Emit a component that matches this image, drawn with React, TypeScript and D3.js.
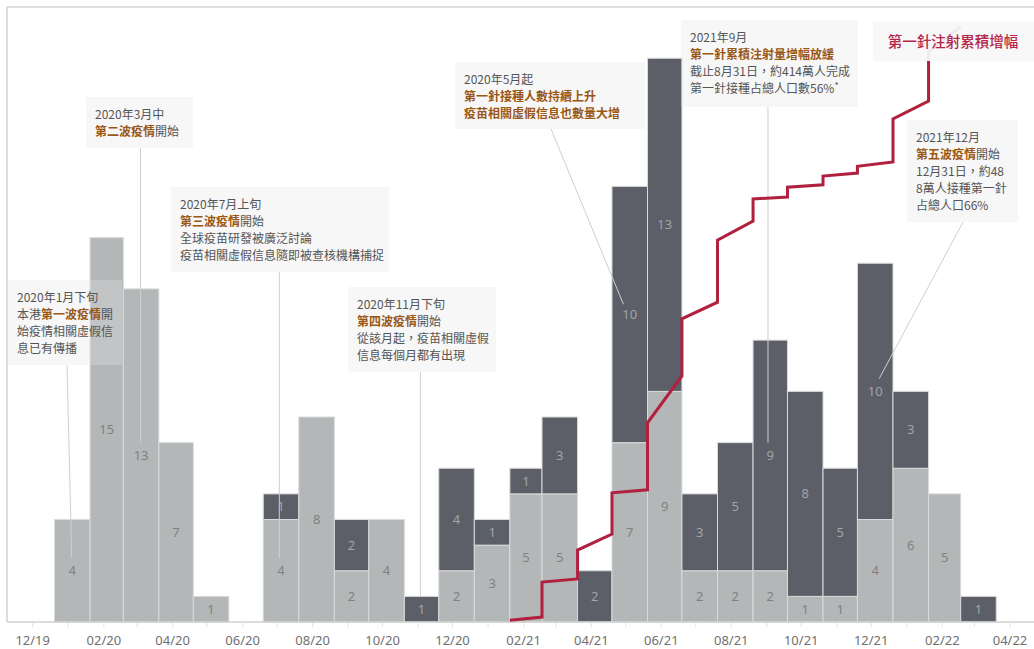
import React from "react";
import * as d3 from "d3";

// Monthly counts of fact-checked misinformation items
const months = [
  "2020-01", "2020-02", "2020-03", "2020-04", "2020-05", "2020-06",
  "2020-07", "2020-08", "2020-09", "2020-10", "2020-11", "2020-12",
  "2021-01", "2021-02", "2021-03", "2021-04", "2021-05", "2021-06",
  "2021-07", "2021-08", "2021-09", "2021-10", "2021-11", "2021-12",
  "2022-01", "2022-02", "2022-03",
];
// Pandemic-related (light) and vaccine-related (dark) items
const pandemicCounts = [4, 15, 13, 7, 1, 0, 4, 8, 2, 4, 0, 2, 3, 5, 5, 0, 7, 9, 2, 2, 2, 1, 1, 4, 6, 5, 0];
const vaccineCounts = [0, 0, 0, 0, 0, 0, 1, 0, 2, 0, 1, 4, 1, 1, 3, 2, 10, 13, 3, 5, 9, 8, 5, 10, 3, 0, 1];

// First-dose cumulative growth index (start / end of each monthly segment)
const doseMonths = [
  "2021-02", "2021-03", "2021-04", "2021-05", "2021-06", "2021-07",
  "2021-08", "2021-09", "2021-10", "2021-11", "2021-12", "2022-01", "2022-02",
];
const doseStart = [0.3, 6.5, 11.7, 21.0, 32.4, 49.3, 62.1, 68.8, 70.7, 72.5, 74.1, 81.8, 92.7];
const doseEnd = [0.8, 7.0, 14.3, 21.5, 40.0, 52.0, 65.2, 69.1, 71.1, 73.0, 74.8, 84.7, 96.8];

const tickLabels = ["12/19", "02/20", "04/20", "06/20", "08/20", "10/20", "12/20", "02/21", "04/21", "06/21", "08/21", "10/21", "12/21", "02/22", "04/22"];

type Seg = { t: string; em?: boolean; sup?: boolean };
type Note = { lines: Seg[][]; anchor: string; value: number };

const notes: Note[] = [
  {
    lines: [
      [{ t: "2020年1月下旬" }],
      [{ t: "本港" }, { t: "第一波疫情", em: true }, { t: "開" }],
      [{ t: "始疫情相關虛假信" }],
      [{ t: "息已有傳播" }],
    ],
    anchor: "2020-01-04",
    value: 2.5,
  },
  {
    lines: [[{ t: "2020年3月中" }], [{ t: "第二波疫情", em: true }, { t: "開始" }]],
    anchor: "2020-03-04",
    value: 7,
  },
  {
    lines: [
      [{ t: "2020年7月上旬" }],
      [{ t: "第三波疫情", em: true }, { t: "開始" }],
      [{ t: "全球疫苗研發被廣泛討論" }],
      [{ t: "疫苗相關虛假信息隨即被查核機構捕捉" }],
    ],
    anchor: "2020-07-03",
    value: 2.5,
  },
  {
    lines: [
      [{ t: "2020年11月下旬" }],
      [{ t: "第四波疫情", em: true }, { t: "開始" }],
      [{ t: "從該月起，疫苗相關虛假" }],
      [{ t: "信息每個月都有出現" }],
    ],
    anchor: "2020-11-03",
    value: 1,
  },
  {
    lines: [
      [{ t: "2020年5月起" }],
      [{ t: "第一針接種人數持續上升", em: true }],
      [{ t: "疫苗相關虛假信息也數量大增", em: true }],
    ],
    anchor: "2021-04-29",
    value: 12.4,
  },
  {
    lines: [
      [{ t: "2021年9月" }],
      [{ t: "第一針累積注射量增幅放緩", em: true }],
      [{ t: "截止8月31日，約414萬人完成" }],
      [{ t: "第一針接種占總人口數56%" }, { t: "*", sup: true }],
    ],
    anchor: "2021-09-02",
    value: 7,
  },
  {
    lines: [
      [{ t: "2021年12月" }],
      [{ t: "第五波疫情", em: true }, { t: "開始" }],
      [{ t: "12月31日，約48" }],
      [{ t: "8萬人接種第一針" }],
      [{ t: "占總人口66%" }],
    ],
    anchor: "2021-12-08",
    value: 9.5,
  },
];

const lineLabel = "第一針注射累積增幅";

// Annotation box placement (x, y, width, height)
const noteBoxes = [
  [8, 280, 114, 85],
  [86, 97, 107, 51],
  [171, 187, 218, 85],
  [348, 287, 148, 85],
  [455, 62, 190, 67],
  [681, 20, 177, 87],
  [907, 120, 111, 102],
];

const W = 1034;
const H = 649;
const CJK = "'Noto Sans CJK TC', 'Noto Sans', sans-serif";
const LATIN = "'Noto Sans', 'Open Sans', sans-serif";
const LIGHT = "#b4b7b8";
const DARK = "#5c5f67";
const RED = "#b0203f";
const BROWN = "#9a5714";
const TEXT = "#555555";

export default function App() {
  const parseMonth = d3.timeParse("%Y-%m");
  const parseDay = d3.timeParse("%Y-%m-%d");
  const parseTick = d3.timeParse("%m/%y");

  const x = d3
    .scaleTime()
    .domain([new Date(2019, 11, 1), new Date(2022, 3, 1)])
    .range([32.7, 1010]);
  const y = d3.scaleLinear().domain([0, 24]).range([622, 7]);
  const yDose = d3.scaleLinear().domain([0, 100]).range([622, 7]);

  const left = 7;
  const right = W;
  const base = y(0);
  const top = y(24);

  // each monthly bar spans from the 20th of the previous month to the 20th of its month
  const span = (m: Date): [number, number] => [
    x(d3.timeDay.offset(m, -12)),
    x(d3.timeDay.offset(d3.timeMonth.offset(m, 1), -12)),
  ];

  const bars = months.map((k, i) => {
    const m = parseMonth(k) as Date;
    const [x0, x1] = span(m);
    return { m, x0, x1, a: pandemicCounts[i], b: vaccineCounts[i] };
  });

  const dosePts: [number, number][] = [];
  doseMonths.forEach((k, i) => {
    const [x0, x1] = span(parseMonth(k) as Date);
    dosePts.push([x0, yDose(doseStart[i])]);
    dosePts.push([x1, yDose(doseEnd[i])]);
  });
  const doseLine = d3.line()(dosePts) || "";

  const monthTicks = d3.timeMonth.range(new Date(2019, 11, 1), new Date(2022, 3, 2));

  return (
    <svg
      width={W}
      height={H}
      style={{ position: "absolute", left: 0, top: 0, background: "#fff" }}
    >
      {/* frame */}
      <line x1={left} x2={right} y1={top} y2={top} stroke="#d6d6d6" strokeWidth={1.5} />
      <line x1={left} x2={left} y1={top} y2={base} stroke="#d0d0d0" strokeWidth={1.5} />

      {/* stacked bars */}
      {bars.map((d, i) => (
        <g key={i}>
          {d.a > 0 && (
            <rect
              x={d.x0}
              y={y(d.a)}
              width={d.x1 - d.x0}
              height={base - y(d.a)}
              fill={LIGHT}
              stroke="#dadada"
              strokeWidth={1}
            />
          )}
          {d.b > 0 && (
            <rect
              x={d.x0}
              y={y(d.a + d.b)}
              width={d.x1 - d.x0}
              height={y(d.a) - y(d.a + d.b)}
              fill={DARK}
              stroke="#dadada"
              strokeWidth={1}
            />
          )}
          {d.a > 0 && (
            <text
              x={(d.x0 + d.x1) / 2}
              y={y(d.a / 2) + 4.5}
              textAnchor="middle"
              fontFamily={LATIN}
              fontSize={13}
              fill="#808080"
            >
              {d.a}
            </text>
          )}
          {d.b > 0 && (
            <text
              x={(d.x0 + d.x1) / 2}
              y={y(d.a + d.b / 2) + 4.5}
              textAnchor="middle"
              fontFamily={LATIN}
              fontSize={13}
              fill="#a0a4ab"
            >
              {d.b}
            </text>
          )}
        </g>
      ))}

      {/* baseline and month ticks */}
      <line x1={left} x2={right} y1={base} y2={base} stroke="#d0d0d0" strokeWidth={1.5} />
      {monthTicks.map((t, i) => (
        <line key={i} x1={x(t)} x2={x(t)} y1={base + 1} y2={base + 5} stroke="#e2e2e2" />
      ))}
      {tickLabels.map((lab, i) => (
        <text
          key={i}
          x={x(parseTick(lab) as Date)}
          y={645}
          textAnchor="middle"
          fontFamily={LATIN}
          fontSize={13}
          fill="#707070"
        >
          {lab}
        </text>
      ))}

      {/* annotations */}
      {notes.map((n, i) => {
        const [bx, by, bw, bh] = noteBoxes[i];
        const ax = x(parseDay(n.anchor) as Date);
        const ay = y(n.value);
        const sx = i === 0 ? bx + 59 : i === 4 ? bx + 96 : i === 6 ? bx + 56 : ax < bx || ax > bx + bw ? bx + bw / 2 : ax;
        return (
          <g key={i}>
            <rect x={bx} y={by} width={bw} height={bh} fill="#e6e6e6" fillOpacity={0.3} />
            <line x1={sx} y1={by + bh} x2={ax} y2={ay} stroke="#cfcfcf" strokeWidth={1} />
            {n.lines.map((segs, j) => (
              <text
                key={j}
                x={bx + 9}
                y={by + 17 + j * 17 + 4.5}
                fontFamily={CJK}
                fontSize={12}
                fill={TEXT}
              >
                {segs.map((s, k) => (
                  <tspan
                    key={k}
                    fill={s.em ? BROWN : TEXT}
                    fontWeight={s.em ? 700 : 400}
                    fontSize={s.sup ? 9 : 12}
                    dy={s.sup ? -4 : 0}
                  >
                    {s.t}
                  </tspan>
                ))}
              </text>
            ))}
          </g>
        );
      })}

      {/* cumulative first-dose line */}
      <path d={doseLine} fill="none" stroke={RED} strokeWidth={3} strokeLinejoin="miter" />

      {/* line label */}
      <rect x={873} y={21} width={161} height={40} fill="#f7f7f7" fillOpacity={0.93} />
      <text
        x={953}
        y={47}
        textAnchor="middle"
        fontFamily={CJK}
        fontSize={14.5}
        fontWeight={500}
        fill="#b4264a"
      >
        {lineLabel}
      </text>
    </svg>
  );
}
